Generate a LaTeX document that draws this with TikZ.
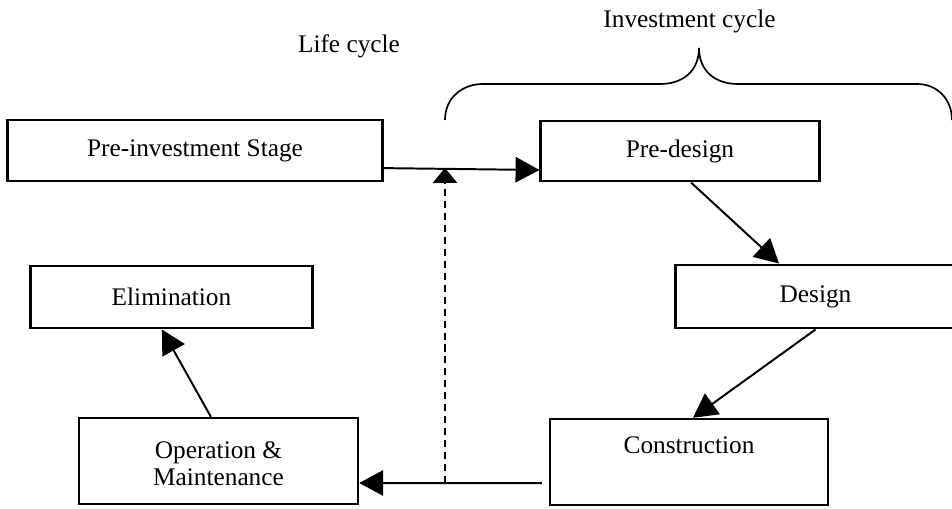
\documentclass[tikz,border=0pt]{standalone}
\usepackage{fontspec}
\setmainfont{Liberation Serif}
\usetikzlibrary{arrows.meta}
\begin{document}
\begin{tikzpicture}[x=0.025cm,y=-0.025cm,
        box/.style={draw,rectangle,line width=2.1pt,inner sep=0pt,align=center,font=\fontsize{18}{19}\selectfont},
        lbl/.style={anchor=base,inner sep=0pt,font=\fontsize{18}{19}\selectfont},
        flow/.style={line width=1.4pt,-{Triangle[length=17pt,width=18pt]}},
        back/.style={line width=1.4pt,dash pattern=on 5pt off 3.5pt,-{Triangle[length=10.5pt,width=17pt]}}]
        \useasboundingbox (0,0) rectangle (952,508);
        \node[lbl] (life) at (349,52) {Life cycle};
        \node[lbl] (invest) at (689.5,27) {Investment cycle};
        \draw[line width=1.2pt] (445,120) .. controls (445,98) and (462,84) .. (483,84) -- (660,84)
            .. controls (684,84) and (699,70) .. (699,48)
            .. controls (699,70) and (714,84) .. (738,84) -- (917,84)
            .. controls (938,84) and (952,100) .. (952,120);
        \node[box,minimum width=9.35cm,minimum height=1.525cm] (pre) at (195,150.5) {Pre-investment Stage};
        \node[box,minimum width=6.95cm,minimum height=1.5cm] (predesign) at (680,151) {Pre-design};
        \node[box,minimum width=6.975cm,minimum height=1.575cm] (design) at (815.5,296.5) {Design};
        \node[box,minimum width=7.025cm,minimum height=1.55cm] (elim) at (171.5,297) {Elimination};
        \node[box,line width=1.7pt,minimum width=6.95cm,minimum height=2.15cm] (constr) at (689,462) {Construction\strut\\\strut};
        \node[box,line width=1.7pt,minimum width=6.975cm,minimum height=2.15cm] (om) at (218.5,461) {Operation \&\rule{0pt}{21pt}\\Maintenance\strut};
        \draw[flow] ([yshift=-0.44cm]pre.east) -- ([yshift=-0.475cm]predesign.west);
        \draw[flow] ([xshift=0.275cm]predesign.south) -- ([xshift=-0.9125cm]design.north);
        \draw[flow] (design.south) -- ([xshift=0.1cm]constr.north);
        \draw[flow] ([xshift=-0.175cm,yshift=-0.525cm]constr.west) -- ([yshift=-0.55cm]om.east);
        \draw[flow] ([xshift=-0.19cm]om.north) -- ([xshift=-0.24cm]elim.south);
        \coordinate (foot) at (445,483);
        \coordinate (head) at (445,168);
        \draw[back] (foot) -- (head);
    \end{tikzpicture}
\end{document}
